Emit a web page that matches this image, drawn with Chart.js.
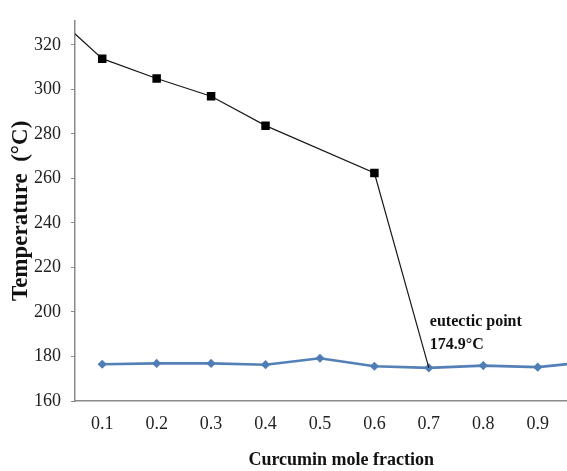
<!DOCTYPE html>
<html>
<head>
<meta charset="utf-8">
<script src="https://cdn.jsdelivr.net/npm/chart.js@4.4.0/dist/chart.umd.min.js"></script>
<style>
  html, body { margin: 0; padding: 0; background: #fff; }
  #frame { width: 567px; height: 471px; overflow: hidden; position: relative; }
  #wrap { width: 612px; height: 471px; }
</style>
</head>
<body>
<div id="frame"><div id="wrap"><canvas id="chart"></canvas></div></div>
<script>
// courbe liquidus (carrés noirs), avec prolongement hors cadre
const liquidusX = [0.0, 0.1, 0.2, 0.3, 0.4, 0.6, 0.7];
const liquidusY = [336, 313.8, 304.9, 296.9, 283.7, 262.4, 174.9];
const liquidusRadius = [0, 6, 6, 6, 6, 6, 0];

// courbe solidus (losanges bleus)
const solidusX = [0.1, 0.2, 0.3, 0.4, 0.5, 0.6, 0.7, 0.8, 0.9, 1.0];
const solidusY = [176.5, 176.9, 176.9, 176.3, 179.2, 175.6, 174.9, 175.9, 175.2, 177.7];
const solidusRadius = [4.6, 4.6, 4.6, 4.6, 4.6, 4.6, 4.6, 4.6, 4.6, 0];

const xTicks = [0.1, 0.2, 0.3, 0.4, 0.5, 0.6, 0.7, 0.8, 0.9];
const yTicks = [160, 180, 200, 220, 240, 260, 280, 300, 320];

const eutecticX = 0.7;
const eutecticY = 174.9;
const eutecticLabel = ['eutectic point', '174.9\u00B0C'];

const serif = '"Liberation Serif", "Times New Roman", serif';

// Annotation du point eutectique
const eutecticPlugin = {
  id: 'eutectic',
  afterDatasetsDraw(chart) {
    const ctx = chart.ctx;
    const px = chart.scales.x.getPixelForValue(eutecticX);
    const py = chart.scales.y.getPixelForValue(eutecticY);
    ctx.save();
    ctx.fillStyle = '#111';
    ctx.font = 'bold 16px ' + serif;
    ctx.textAlign = 'left';
    ctx.textBaseline = 'middle';
    ctx.fillText(eutecticLabel[0], px + 1, py - 46);
    ctx.fillText(eutecticLabel[1], px + 1, py - 23);
    ctx.restore();
  }
};

const ctx = document.getElementById('chart').getContext('2d');
new Chart(ctx, {
  type: 'line',
  data: {
    datasets: [
      {
        label: 'liquidus',
        data: liquidusX.map((x, i) => ({ x: x, y: liquidusY[i] })),
        borderColor: '#1a1a1a',
        borderWidth: 1.2,
        pointStyle: 'rect',
        pointRadius: liquidusRadius,
        pointBackgroundColor: '#000',
        pointBorderColor: '#000',
        pointBorderWidth: 0,
        tension: 0
      },
      {
        label: 'solidus',
        data: solidusX.map((x, i) => ({ x: x, y: solidusY[i] })),
        borderColor: '#5480b8',
        borderWidth: 2.6,
        pointStyle: 'rectRot',
        pointRadius: solidusRadius,
        pointBackgroundColor: '#4f7db5',
        pointBorderColor: '#4f7db5',
        pointBorderWidth: 0,
        tension: 0
      }
    ]
  },
  options: {
    responsive: true,
    maintainAspectRatio: false,
    animation: false,
    layout: { padding: { top: 15, right: 0, left: 0, bottom: 0 } },
    plugins: {
      legend: { display: false },
      tooltip: { enabled: false }
    },
    scales: {
      x: {
        type: 'linear',
        min: 0.05,
        max: 1.028,
        afterBuildTicks: (scale) => { scale.ticks = xTicks.map(v => ({ value: v })); },
        afterFit: (scale) => { scale.height = 70; },
        border: { display: true, color: '#8a8a8a', width: 1.5 },
        grid: { display: true, drawOnChartArea: false, drawTicks: false },
        ticks: {
          autoSkip: false,
          maxRotation: 0,
          padding: 12,
          color: '#222',
          font: { family: serif, size: 18 },
          callback: (v) => v.toFixed(1)
        },
        title: {
          display: true,
          text: 'Curcumin mole fraction',
          color: '#111',
          font: { family: serif, size: 18, weight: 'bold' },
          padding: { top: 0, bottom: 0 }
        }
      },
      y: {
        min: 160,
        max: 330.8,
        afterBuildTicks: (scale) => { scale.ticks = yTicks.map(v => ({ value: v })); },
        afterFit: (scale) => { scale.width = 75; },
        border: { display: true, color: '#8a8a8a', width: 1.5 },
        grid: { display: true, drawOnChartArea: false, drawTicks: true, tickLength: 4, color: '#8a8a8a' },
        ticks: {
          padding: 10,
          color: '#222',
          font: { family: serif, size: 18 }
        },
        title: {
          display: true,
          text: 'Temperature  (\u00B0C)',
          color: '#111',
          font: { family: serif, size: 23, weight: 'bold' },
          padding: { top: 7, bottom: 0 }
        }
      }
    }
  },
  plugins: [eutecticPlugin]
});
</script>
</body>
</html>
